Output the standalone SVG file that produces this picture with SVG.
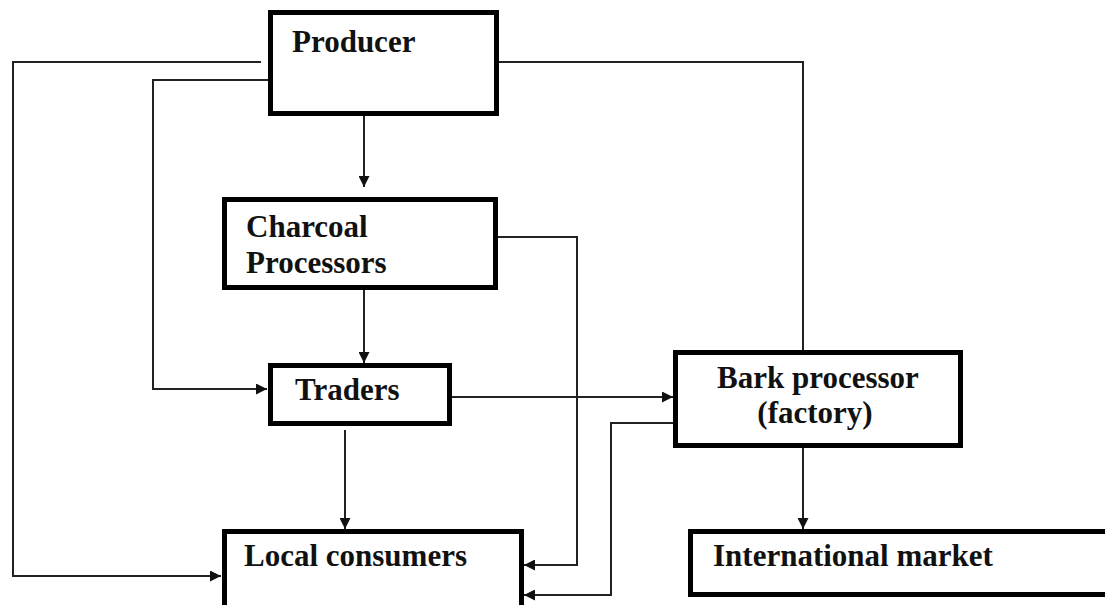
<svg xmlns="http://www.w3.org/2000/svg" width="1105" height="605" viewBox="0 0 1105 605">
<style>
.box{fill:#fff;stroke:#000;stroke-width:5}
.lbl{font-family:"Liberation Serif","Times New Roman",serif;font-weight:bold;font-size:31px;fill:#111}
.c{fill:none;stroke:#222;stroke-width:2}
.a{marker-end:url(#arr)}
</style>
<defs>
<marker id="arr" markerUnits="userSpaceOnUse" markerWidth="11" markerHeight="11" refX="11" refY="5.5" orient="auto">
<path d="M0,0 L11,5.5 L0,11 z" fill="#111"/>
</marker>
</defs>
<rect width="1105" height="605" fill="#fff"/>
<g id="connectors">
<path class="c a" d="M261,62 H13 V576 H221"/>
<path class="c a" d="M268,80 H153 V389 H267"/>
<path class="c a" d="M364,116 V187"/>
<path class="c" d="M499,62 H803 V350"/>
<path class="c a" d="M803,448 V529"/>
<path class="c a" d="M498,237 H577 V565 H524"/>
<path class="c a" d="M364,290 V363"/>
<path class="c a" d="M452,397 H673"/>
<path class="c a" d="M345,430 V529"/>
<path class="c a" d="M673,423 H611 V595 H524"/>
</g>
<g id="producer">
<rect class="box" x="270.5" y="12.5" width="226" height="101"/>
<text class="lbl" x="292" y="52">Producer</text>
</g>
<g id="charcoal">
<rect class="box" x="224.5" y="199.5" width="271" height="88"/>
<text class="lbl" x="246" y="237">Charcoal</text>
<text class="lbl" x="246" y="273">Processors</text>
</g>
<g id="traders">
<rect class="box" x="270.5" y="365.5" width="179" height="58"/>
<text class="lbl" x="295" y="400">Traders</text>
</g>
<g id="local">
<rect class="box" x="224.5" y="531.5" width="297" height="80"/>
<text class="lbl" x="244" y="566">Local consumers</text>
</g>
<g id="bark">
<rect class="box" x="675.5" y="352.5" width="285" height="93"/>
<text class="lbl" x="818" y="388" text-anchor="middle">Bark processor</text>
<text class="lbl" x="815" y="423" text-anchor="middle">(factory)</text>
</g>
<g id="intl">
<rect class="box" x="690.5" y="531.5" width="420" height="63"/>
<text class="lbl" x="713" y="566">International market</text>
</g>
</svg>
